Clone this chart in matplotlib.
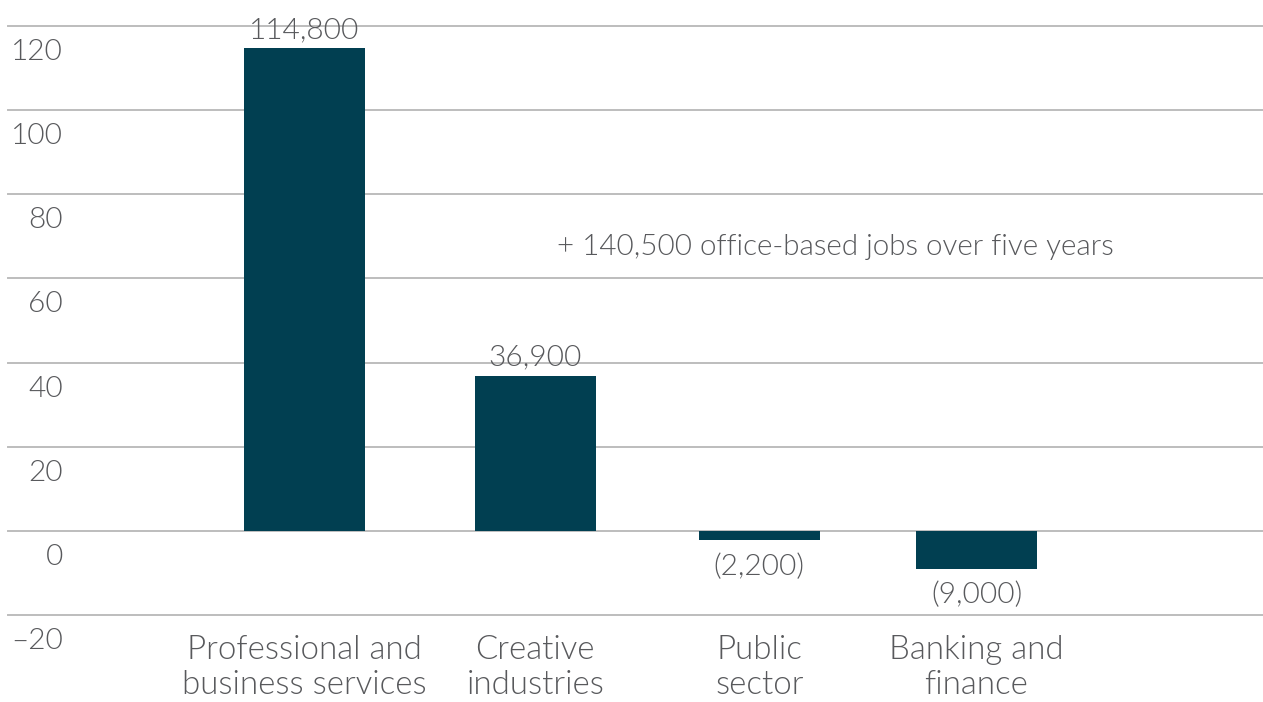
import matplotlib
matplotlib.use('Agg')
import matplotlib.pyplot as plt
import matplotlib.transforms as mtransforms

# 
# data: change in office-based jobs (thousands)
# 
categories = ['Professional and\nbusiness services', 'Creative\nindustries', 'Public\nsector', 'Banking and\nfinance']
job_change = [114.8, 36.9, -2.2, -9.0]
value_labels = ['114,800', '36,900', '(2,200)', '(9,000)']
y_ticks = [-20, 0, 20, 40, 60, 80, 100, 120]
y_tick_labels = ['\u201320', '0', '20', '40', '60', '80', '100', '120']
note_text = '+ 140,500 office-based jobs over five years'

# layout
x_pos = [0, 1.03, 2.03, 3.0]
bar_color = '#013F51'
text_color = '#58595C'
grid_color = '#BDBDBD'
font = {'family': ['Lato', 'DejaVu Sans'], 'weight': 300, 'size': 21.5}
cat_font = dict(font, size=23.8)
note_font = dict(font, size=21.3)

W, H = 1263, 702
fig = plt.figure(figsize=(W/100., H/100.), dpi=100)
ax = fig.add_axes([8./W, (H-615.)/H, (W-8.)/W, (615.-26.)/H])
ax.set_xlim(-1.324, 4.279)
ax.set_ylim(-20, 120)
ax.axis('off')

# horizontal grid lines
for yv in y_ticks:
    ax.axhline(yv, color=grid_color, lw=1.4, zorder=1, clip_on=False)

# bars
ax.bar(x_pos, job_change, width=0.54, color=bar_color, zorder=3)

# y tick labels sit just below each grid line
trans_ylab = mtransforms.blended_transform_factory(ax.transAxes, ax.transData)
trans_ylab = trans_ylab + mtransforms.ScaledTranslation(0, -26/100., fig.dpi_scale_trans)
for yv, lab in zip(y_ticks, y_tick_labels):
    ax.text(55./(W-8.), yv, lab, transform=trans_ylab, ha='right', va='center',
            color=text_color, fontdict=font)

# value labels above / below the bars
for xv, yv, lab in zip(x_pos, job_change, value_labels):
    if yv >= 0:
        off = mtransforms.ScaledTranslation(0, 10/100., fig.dpi_scale_trans)
        ax.text(xv, yv, lab, transform=ax.transData + off, ha='center', va='baseline',
                color=text_color, fontdict=font, zorder=5)
    else:
        off = mtransforms.ScaledTranslation(0, -13/100., fig.dpi_scale_trans)
        ax.text(xv, yv, lab, transform=ax.transData + off, ha='center', va='top',
                color=text_color, fontdict=font, zorder=5)

# category labels under the axis
trans_xlab = mtransforms.blended_transform_factory(ax.transData, ax.transAxes)
trans_xlab = trans_xlab + mtransforms.ScaledTranslation(0, -20/100., fig.dpi_scale_trans)
for xv, lab in zip(x_pos, categories):
    ax.text(xv, 0, lab, transform=trans_xlab, ha='center', va='top',
            linespacing=1.22, color=text_color, fontdict=cat_font)

# total annotation
ax.text(1.127, 67.4, note_text, ha='left', va='center', color=text_color, fontdict=note_font)

fig.savefig('out.png', dpi=100)
